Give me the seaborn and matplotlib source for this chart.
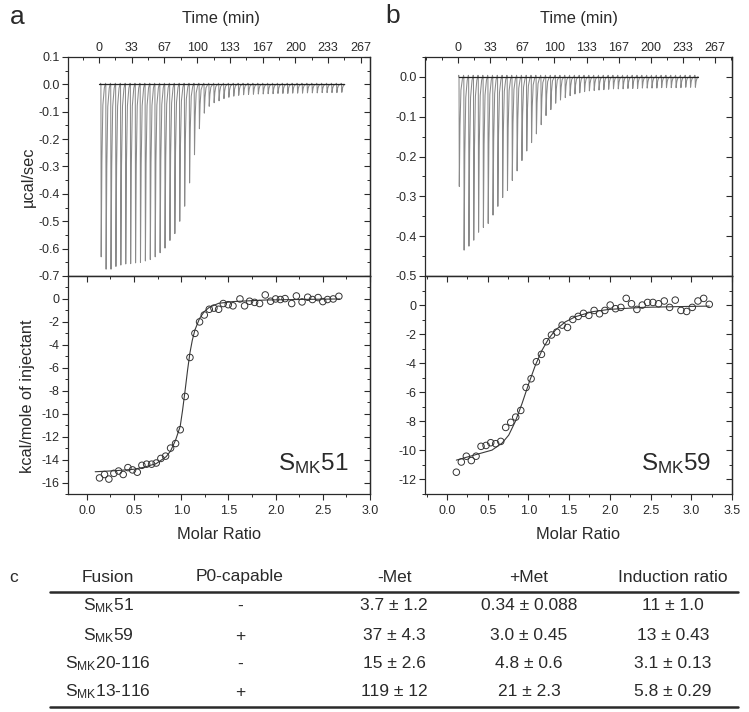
import numpy as np
import pandas as pd
import matplotlib
matplotlib.use("Agg")
import matplotlib.pyplot as plt
import seaborn as sns
from matplotlib.lines import Line2D
from matplotlib.ticker import MultipleLocator, FixedLocator, FormatStrFormatter

# ---------------- data ----------------
time_ticks = [0, 33.333, 66.667, 100, 133.333, 166.667, 200, 233.333, 266.667]
time_labels = ["0", "33", "67", "100", "133", "167", "200", "233", "267"]

a_inj_times = [2, 7, 12, 17, 22, 27, 32, 37, 42, 47, 52, 57, 62, 67, 72, 77, 82, 87, 92, 97,
               102, 107, 112, 117, 122, 127, 132, 137, 142, 147, 152, 157, 162, 167, 172, 177,
               182, 187, 192, 197, 202, 207, 212, 217, 222, 227, 232, 237, 242, 247]
a_peaks = [-0.630, -0.675, -0.675, -0.665, -0.660, -0.656, -0.655, -0.652, -0.650, -0.645,
           -0.640, -0.630, -0.615, -0.598, -0.570, -0.545, -0.500, -0.445, -0.360, -0.257,
           -0.162, -0.105, -0.080, -0.067, -0.060, -0.052, -0.047, -0.043, -0.040, -0.038,
           -0.037, -0.036, -0.035, -0.035, -0.034, -0.034, -0.033, -0.033, -0.033, -0.032,
           -0.032, -0.032, -0.031, -0.031, -0.031, -0.030, -0.030, -0.030, -0.030, -0.029]

b_inj_times = [1, 6, 11, 16, 21, 26, 31, 36, 41, 46, 51, 56, 61, 66, 71, 76, 81, 86, 91, 96,
               101, 106, 111, 116, 121, 126, 131, 136, 141, 146, 151, 156, 161, 166, 171, 176,
               181, 186, 191, 196, 201, 206, 211, 216, 221, 226, 231, 236, 241, 246]
b_peaks = [-0.275, -0.435, -0.425, -0.410, -0.390, -0.378, -0.368, -0.347, -0.325, -0.303,
           -0.285, -0.260, -0.236, -0.210, -0.186, -0.165, -0.143, -0.120, -0.097, -0.082,
           -0.066, -0.058, -0.052, -0.047, -0.043, -0.040, -0.037, -0.035, -0.034, -0.033,
           -0.032, -0.031, -0.030, -0.030, -0.030, -0.029, -0.029, -0.029, -0.028, -0.028,
           -0.028, -0.028, -0.027, -0.027, -0.027, -0.027, -0.027, -0.026, -0.026, -0.026]

a_ratio = [0.134, 0.187, 0.233, 0.286, 0.336, 0.385, 0.435, 0.484, 0.534, 0.583,
           0.633, 0.686, 0.735, 0.784, 0.834, 0.887, 0.940, 0.989, 1.042, 1.092,
           1.145, 1.194, 1.244, 1.297, 1.346, 1.396, 1.445, 1.498, 1.548, 1.622,
           1.671, 1.724, 1.777, 1.830, 1.890, 1.947, 2.000, 2.050, 2.100, 2.170,
           2.220, 2.280, 2.340, 2.390, 2.450, 2.500, 2.550, 2.610, 2.670]
a_heat = [-15.6, -15.3, -15.7, -15.2, -15.0, -15.3, -14.7, -14.9, -15.1, -14.5,
          -14.4, -14.4, -14.3, -13.9, -13.7, -13.0, -12.6, -11.4, -8.5, -5.1,
          -3.0, -2.0, -1.4, -0.9, -0.8, -0.9, -0.4, -0.5, -0.6, 0.0,
          -0.6, -0.2, -0.3, -0.4, 0.35, -0.2, 0.0, -0.05, 0.03, -0.4,
          0.26, -0.26, 0.15, -0.05, 0.12, -0.23, -0.05, 0.0, 0.23]
a_fit_x = [0.088, 0.30, 0.49, 0.60, 0.735, 0.84, 0.887, 0.94, 0.989, 1.014, 1.042, 1.067,
           1.092, 1.117, 1.145, 1.194, 1.244, 1.297, 1.396, 1.548, 1.90, 2.30, 2.68]
a_fit_y = [-15.06, -14.97, -14.85, -14.68, -14.35, -13.75, -13.25, -12.3, -11.1, -9.7, -7.9, -6.2,
           -4.7, -3.6, -2.7, -1.7, -1.1, -0.73, -0.38, -0.23, -0.09, -0.04, 0.0]

b_ratio = [0.115, 0.176, 0.238, 0.299, 0.357, 0.418, 0.480, 0.537, 0.598, 0.660,
           0.721, 0.783, 0.844, 0.906, 0.971, 1.033, 1.098, 1.160, 1.221, 1.283,
           1.348, 1.414, 1.480, 1.545, 1.611, 1.676, 1.742, 1.807, 1.873, 1.939,
           2.004, 2.070, 2.135, 2.201, 2.266, 2.332, 2.398, 2.463, 2.529, 2.598,
           2.668, 2.734, 2.803, 2.873, 2.943, 3.012, 3.082, 3.152, 3.221]
b_heat = [-11.5, -10.8, -10.4, -10.7, -10.4, -9.72, -9.66, -9.47, -9.54, -9.38,
          -8.42, -8.07, -7.71, -7.25, -5.67, -5.07, -3.9, -3.39, -2.52, -2.06,
          -1.86, -1.38, -1.54, -0.99, -0.78, -0.57, -0.71, -0.37, -0.6, -0.37,
          0.0, -0.25, -0.16, 0.46, 0.09, -0.3, 0.0, 0.18, 0.18, 0.09,
          0.28, -0.16, 0.34, -0.37, -0.44, -0.16, 0.28, 0.46, 0.05]
b_fit_x = [0.115, 0.348, 0.553, 0.676, 0.758, 0.84, 0.922, 1.004, 1.086, 1.168, 1.25,
           1.332, 1.455, 1.578, 1.783, 1.988, 2.398, 2.807, 3.221]
b_fit_y = [-10.67, -10.3, -9.98, -9.5, -8.95, -8.0, -6.77, -5.4, -4.13, -3.1, -2.3,
           -1.72, -1.15, -0.8, -0.46, -0.3, -0.16, -0.11, -0.07]

a_heat_ticks = [-16, -14, -12, -10, -8, -6, -4, -2, 0]
b_heat_ticks = [-12, -10, -8, -6, -4, -2, 0]

table_header = ["Fusion", "P0-capable", "-Met", "+Met", "Induction ratio"]
table_fusion = ["S$_{MK}$51", "S$_{MK}$59", "S$_{MK}$20-116", "S$_{MK}$13-116"]
table_p0 = ["-", "+", "-", "+"]
table_minus_met = ["3.7 ± 1.2", "37 ± 4.3", "15 ± 2.6", "119 ± 12"]
table_plus_met = ["0.34 ± 0.088", "3.0 ± 0.45", "4.8 ± 0.6", "21 ± 2.3"]
table_induction = ["11 ± 1.0", "13 ± 0.43", "3.1 ± 0.13", "5.8 ± 0.29"]

# ---------------- style ----------------
sns.set_theme(style="white")
plt.rcParams['font.family'] = ['Liberation Sans', 'DejaVu Sans']
plt.rcParams['mathtext.default'] = 'regular'
plt.rcParams['axes.unicode_minus'] = False

W, H = 749, 712
fig = plt.figure(figsize=(W / 100, H / 100), dpi=100)
fig.patch.set_facecolor('white')

def fx(px):
    return px / W

def fy(py):
    return 1 - py / H

def make_ax(l, t, r, b):
    return fig.add_axes([fx(l), fy(b), fx(r) - fx(l), (b - t) / H])

INK = '#2a2a2a'
TICK_FS = 9
LABEL_FS = 11.8

def base_style(ax):
    ax.set_facecolor('white')
    for s in ax.spines.values():
        s.set_color(INK)
        s.set_linewidth(0.9)
        s.set_visible(True)

def trace_frame(times, peaks, t_start, t_end):
    xs, ys = [t_start], [0.0]
    for t, d in zip(times, peaks):
        xs += [t - 0.6, t - 0.3, t, t + 0.3, t + 1.0, t + 2.0, t + 3.5]
        ys += [0.0, 0.004, 0.0, d, 0.45 * d, 0.12 * d, 0.02 * d]
    xs.append(t_end)
    ys.append(0.0)
    return pd.DataFrame({"time": xs, "power": ys})

def top_panel(ax, times, peaks, xlim, ylim, ymaj, ymin_):
    base_style(ax)
    df = trace_frame(times, peaks, 0.5, times[-1] + 2.5)
    sns.lineplot(data=df, x="time", y="power", sort=False, estimator=None,
                 color='#8a8a8a', linewidth=0.75, ax=ax)
    base = pd.DataFrame({"time": [0.5, times[-1] + 2.5], "power": [0.0, 0.0]})
    sns.lineplot(data=base, x="time", y="power", sort=False, estimator=None,
                 color='#222222', linewidth=0.9, ax=ax)
    ax.set_xlim(*xlim)
    ax.set_ylim(*ylim)
    ax.xaxis.tick_top()
    ax.xaxis.set_major_locator(FixedLocator(time_ticks))
    ax.set_xticklabels(time_labels)
    ax.xaxis.set_minor_locator(MultipleLocator(16.6667))
    ax.tick_params(axis='x', which='both', top=True, bottom=False, direction='in',
                   labeltop=True, labelbottom=False, colors=INK, labelsize=TICK_FS,
                   pad=2.5)
    ax.tick_params(axis='x', which='major', length=4, width=0.8)
    ax.tick_params(axis='x', which='minor', length=2.2, width=0.7)
    ax.yaxis.set_major_locator(MultipleLocator(ymaj))
    ax.yaxis.set_minor_locator(MultipleLocator(ymin_))
    ax.yaxis.set_major_formatter(FormatStrFormatter('%.1f'))
    ax.tick_params(axis='y', which='both', left=True, right=False, direction='out',
                   colors=INK, labelsize=TICK_FS, pad=2)
    ax.tick_params(axis='y', which='major', length=4, width=0.8)
    ax.tick_params(axis='y', which='minor', length=2.2, width=0.7)
    sec = ax.secondary_yaxis('right')
    sec.yaxis.set_major_locator(MultipleLocator(ymaj))
    sec.yaxis.set_minor_locator(MultipleLocator(ymin_))
    sec.tick_params(which='both', direction='in', labelright=False, colors=INK)
    sec.tick_params(which='major', length=4, width=0.8)
    sec.tick_params(which='minor', length=2.2, width=0.7)
    sec.spines['right'].set_color(INK)
    sec.spines['right'].set_linewidth(0.9)
    ax.set_xlabel("")
    ax.set_ylabel("")

def bottom_panel(ax, ratio, heat, fx_, fy_, xlim, ylim, xmaj, yticks, label):
    base_style(ax)
    sns.lineplot(x=fx_, y=fy_, sort=False, estimator=None, color='#3a3a3a',
                 linewidth=0.8, ax=ax)
    sns.scatterplot(x=ratio, y=heat, marker='o', s=22, facecolor='none',
                    edgecolor='#333333', linewidth=0.7, ax=ax, zorder=3)
    ax.set_xlim(*xlim)
    ax.set_ylim(*ylim)
    ax.xaxis.set_major_locator(MultipleLocator(xmaj))
    ax.xaxis.set_minor_locator(MultipleLocator(xmaj / 2))
    ax.xaxis.set_major_formatter(FormatStrFormatter('%.1f'))
    ax.yaxis.set_major_locator(FixedLocator(yticks))
    ax.yaxis.set_minor_locator(MultipleLocator(1))
    ax.yaxis.set_major_formatter(FormatStrFormatter('%d'))
    ax.tick_params(which='both', left=True, bottom=True, top=False, right=False,
                   direction='out', colors=INK, labelsize=TICK_FS)
    ax.tick_params(axis='x', which='both', pad=4)
    ax.tick_params(axis='y', which='both', pad=2)
    ax.tick_params(which='major', length=4, width=0.8)
    ax.tick_params(which='minor', length=2.2, width=0.7)
    secx = ax.secondary_xaxis('top')
    secx.xaxis.set_major_locator(MultipleLocator(xmaj))
    secx.xaxis.set_minor_locator(MultipleLocator(xmaj / 2))
    secx.tick_params(which='both', direction='in', labeltop=False, colors=INK)
    secx.tick_params(which='major', length=4, width=0.8)
    secx.tick_params(which='minor', length=2.2, width=0.7)
    secy = ax.secondary_yaxis('right')
    secy.yaxis.set_major_locator(FixedLocator(yticks))
    secy.yaxis.set_minor_locator(MultipleLocator(1))
    secy.tick_params(which='both', direction='in', labelright=False, colors=INK)
    secy.tick_params(which='major', length=4, width=0.8)
    secy.tick_params(which='minor', length=2.2, width=0.7)
    for sp in list(secx.spines.values()) + list(secy.spines.values()):
        sp.set_color(INK)
        sp.set_linewidth(0.9)
    ax.set_xlabel("")
    ax.set_ylabel("")
    ax.text(0.5, -0.188, "Molar Ratio", transform=ax.transAxes, ha='center',
            va='center', fontsize=LABEL_FS, color=INK)
    ax.text(0.93, 0.11, label, transform=ax.transAxes, ha='right', va='baseline',
            fontsize=17.5, color=INK)

# panel a
ax_a1 = make_ax(68, 57, 370, 276)
ax_a2 = make_ax(68, 276, 370, 494)
top_panel(ax_a1, a_inj_times, a_peaks, (-31.5, 276), (-0.7, 0.1), 0.1, 0.05)
bottom_panel(ax_a2, a_ratio, a_heat, a_fit_x, a_fit_y, (-0.2, 3.0), (-17, 2), 0.5,
             a_heat_ticks, "S$_{MK}$51")

# panel b
ax_b1 = make_ax(425, 57, 732, 276)
ax_b2 = make_ax(425, 276, 732, 494)
top_panel(ax_b1, b_inj_times, b_peaks, (-34.3, 284.3), (-0.5, 0.05), 0.1, 0.05)
bottom_panel(ax_b2, b_ratio, b_heat, b_fit_x, b_fit_y, (-0.27, 3.5), (-13, 2), 0.5,
             b_heat_ticks, "S$_{MK}$59")

# labels
fig.text(fx(221), fy(18), "Time (min)", ha='center', va='center', fontsize=LABEL_FS, color=INK)
fig.text(fx(579), fy(18), "Time (min)", ha='center', va='center', fontsize=LABEL_FS, color=INK)
fig.text(fx(28), fy(177), "µcal/sec", ha='center', va='center', rotation=90,
         fontsize=LABEL_FS, color=INK)
fig.text(fx(28), fy(396), "kcal/mole of injectant", ha='center', va='center', rotation=90,
         fontsize=LABEL_FS, color=INK)
fig.text(fx(17), fy(17), "a", ha='center', va='center', fontsize=19, color=INK)
fig.text(fx(393), fy(16), "b", ha='center', va='center', fontsize=19, color=INK)

# ---------------- table ----------------
col_x = [108, 240, 394, 529, 673]
header_y = 577
rows_y = [606, 636, 664, 692]
TFS = 12.5
fig.text(fx(14), fy(header_y), "c", ha='center', va='center', fontsize=TFS, color=INK)
for x, h in zip(col_x, table_header):
    fig.text(fx(x), fy(header_y), h, ha='center', va='center', fontsize=TFS, color=INK)
fig.add_artist(Line2D([fx(50), fx(738)], [fy(592), fy(592)], lw=1.8, color=INK))
fig.add_artist(Line2D([fx(50), fx(738)], [fy(707), fy(707)], lw=1.8, color=INK))
columns = [table_fusion, table_p0, table_minus_met, table_plus_met, table_induction]
for x, col in zip(col_x, columns):
    for y, val in zip(rows_y, col):
        fig.text(fx(x), fy(y), val, ha='center', va='center', fontsize=TFS, color=INK)

fig.savefig("out.png", dpi=100, facecolor='white')
